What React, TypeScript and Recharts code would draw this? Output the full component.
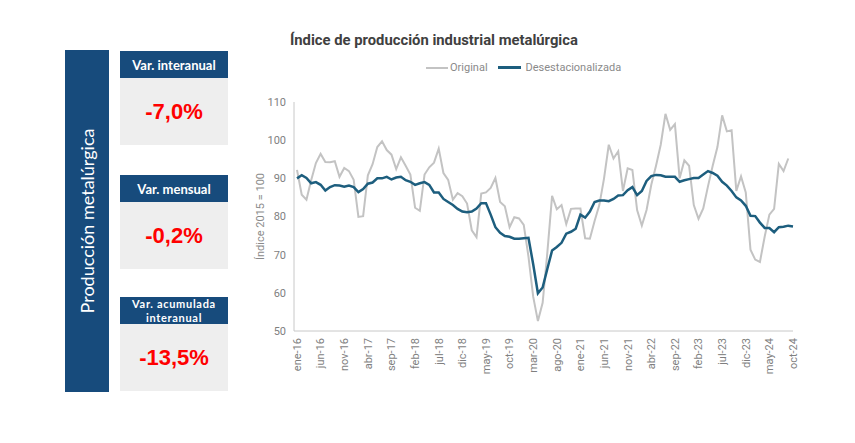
import { LineChart, Line, XAxis, YAxis, Legend } from 'recharts';

const MESES = ['ene', 'feb', 'mar', 'abr', 'may', 'jun', 'jul', 'ago', 'sep', 'oct', 'nov', 'dic'];
const ANIOS = ['16', '17', '18', '19', '20', '21', '22', '23', '24'];

// ene-16 .. oct-24
const periodos = ANIOS.flatMap((a) => MESES.map((m) => `${m}-${a}`)).slice(0, 106);

const original = [
  92.2, 85.7, 84.4, 89.5, 94.0, 96.4, 94.3, 94.2, 94.5, 90.4, 92.7, 91.9,
  89.6, 79.9, 80.1, 90.8, 93.7, 98.2, 99.7, 97.4, 96.2, 92.4, 95.5, 93.3,
  91.0, 82.3, 81.5, 91.0, 92.9, 94.1, 97.8, 91.4, 89.6, 84.4, 86.1, 85.3,
  83.4, 76.4, 74.6, 86.0, 86.3, 87.5, 90.1, 83.8, 82.7, 77.2, 79.8, 79.5,
  77.8, 69.5, 59.0, 52.6, 57.4, 70.6, 85.4, 81.9, 83.0, 78.0, 82.0, 82.1,
  82.1, 74.3, 74.2, 78.8, 83.0, 90.0, 98.8, 95.2, 97.1, 86.7, 92.6, 92.2,
  81.7, 77.6, 81.7, 88.3, 93.3, 98.8, 106.9, 102.7, 104.2, 90.0, 94.7, 93.3,
  83.0, 79.4, 82.1, 87.9, 93.3, 98.2, 106.5, 102.3, 102.6, 86.7, 90.5, 86.3,
  71.3, 68.7, 68.1, 74.7, 80.5, 82.0, 93.8, 91.9, 95.2, null,
];

const desestacionalizada = [
  90.0, 90.8, 90.1, 88.7, 89.0, 88.3, 86.8, 87.7, 88.2, 88.1, 87.8, 88.1,
  87.7, 86.4, 87.2, 88.6, 88.9, 90.0, 90.0, 90.4, 89.7, 90.2, 90.4, 89.5,
  89.1, 88.3, 88.7, 89.0, 88.3, 86.3, 86.3, 84.6, 83.8, 83.0, 82.0, 81.3,
  81.1, 81.3, 82.1, 83.5, 83.5, 80.5, 77.2, 75.7, 74.9, 74.7, 74.2, 74.2,
  74.3, 74.4, 67.5, 59.9, 61.4, 66.3, 71.1, 72.0, 73.1, 75.5, 76.0, 76.8,
  80.5, 79.7, 81.3, 83.8, 84.2, 84.2, 84.0, 84.6, 85.5, 85.6, 86.9, 87.7,
  85.6, 86.7, 89.3, 90.6, 90.9, 90.8, 90.4, 90.4, 90.4, 89.1, 89.5, 89.8,
  90.1, 90.1, 91.0, 91.9, 91.4, 90.7, 89.1, 88.1, 86.7, 85.0, 84.2, 82.8,
  80.2, 80.1, 78.4, 77.0, 77.0, 75.9, 77.2, 77.3, 77.6, 77.4,
];

const yTicks = [50, 60, 70, 80, 90, 100, 110];

const indicadores = [
  { titulo: ['Var. interanual'], valor: '-7,0%', top: 51 },
  { titulo: ['Var. mensual'], valor: '-0,2%', top: 175 },
  { titulo: ['Var. acumulada', 'interanual'], valor: '-13,5%', top: 297 },
];

const data = periodos.map((p, i) => ({
  periodo: p,
  Original: original[i],
  Desestacionalizada: desestacionalizada[i],
}));

const AZUL = '#174b7c';
const GRIS_TXT = '#7f7f7f';

function XTick({ x, y, payload }: any) {
  return (
    <g transform={`translate(${x},${y - 1})`}>
      <text
        transform="rotate(-90)"
        textAnchor="end"
        dy="0.35em"
        fontSize={11}
        fill={GRIS_TXT}
        fontFamily="Roboto"
      >
        {payload.value}
      </text>
    </g>
  );
}

function Leyenda() {
  return (
    <div style={{ display: 'flex', alignItems: 'center', fontFamily: 'Roboto', fontSize: 11, color: '#8a8a8a', whiteSpace: 'nowrap' }}>
      <span style={{ width: 22, height: 2, background: '#c3c3c3', display: 'inline-block', marginRight: 2 }} />
      <span style={{ marginRight: 10 }}>Original</span>
      <span style={{ width: 23, height: 2.5, background: '#1d5e7e', display: 'inline-block', marginRight: 5 }} />
      <span>Desestacionalizada</span>
    </div>
  );
}

export default function App() {
  return (
    <div style={{ position: 'absolute', left: 0, top: 0, width: 855, height: 443, background: '#fff' }}>
      <div
        style={{
          position: 'absolute', left: 65, top: 50, width: 44, height: 342, background: AZUL,
          display: 'flex', alignItems: 'center', justifyContent: 'center',
        }}
      >
        <div
          style={{
            transform: 'rotate(-90deg)', whiteSpace: 'nowrap', color: '#fff',
            fontFamily: 'Lato', fontSize: 18,
          }}
        >
          Producción metalúrgica
        </div>
      </div>

      {indicadores.map((d) => {
        const dos = d.titulo.length > 1;
        return (
          <div key={d.valor} style={{ position: 'absolute', left: 120, top: d.top, width: 108 }}>
            <div
              style={{
                height: 27, background: AZUL, color: '#fff', fontFamily: 'Lato', fontWeight: 700,
                fontSize: dos ? 11 : 13, lineHeight: dos ? '13.5px' : '26px', letterSpacing: dos ? 0.7 : 0,
                textAlign: 'center', display: 'flex', flexDirection: 'column', justifyContent: 'center',
              }}
            >
              {d.titulo.map((t) => <div key={t}>{t}</div>)}
            </div>
            <div
              style={{
                height: 67, background: '#eeeeee', color: '#ff0000', fontFamily: '"Liberation Sans", Arial',
                fontWeight: 700, fontSize: 22, display: 'flex', alignItems: 'center', justifyContent: 'center',
              }}
            >
              {d.valor}
            </div>
          </div>
        );
      })}

      <div
        style={{
          position: 'absolute', left: 290, top: 31, fontFamily: 'Roboto', fontWeight: 700,
          fontSize: 14.8, color: '#404040', whiteSpace: 'nowrap',
        }}
      >
        Índice de producción industrial metalúrgica
      </div>

      <div style={{ position: 'absolute', left: 0, top: 0 }}>
        <LineChart width={855} height={443} data={data} margin={{ top: 89, right: 62, bottom: 72, left: 244 }}>
          <XAxis
            dataKey="periodo"
            interval={4}
            tick={<XTick />}
            tickLine={false}
            axisLine={{ stroke: '#c8c8c8' }}
            height={40}
            padding={{ left: 3, right: 0 }}
          />
          <YAxis
            domain={[50, 110]}
            ticks={yTicks}
            width={50}
            tickLine={false}
            axisLine={{ stroke: '#c8c8c8' }}
            tick={{ fontSize: 11, fill: GRIS_TXT, fontFamily: 'Roboto' }}
            label={{
              value: 'Índice 2015 = 100', angle: -90, position: 'insideLeft', offset: 16,
              style: { fontSize: 11, fill: '#8a8a8a', fontFamily: 'Roboto', textAnchor: 'middle' },
            }}
          />
          <Legend
            verticalAlign="top"
            content={<Leyenda />}
            wrapperStyle={{ position: 'absolute', left: 426, top: 61, width: 'auto' }}
          />
          <Line
            type="linear"
            dataKey="Original"
            stroke="#c3c3c3"
            strokeWidth={2}
            dot={false}
            isAnimationActive={false}
          />
          <Line
            type="linear"
            dataKey="Desestacionalizada"
            stroke="#1d5e7e"
            strokeWidth={2.5}
            dot={false}
            isAnimationActive={false}
          />
        </LineChart>
      </div>
    </div>
  );
}
